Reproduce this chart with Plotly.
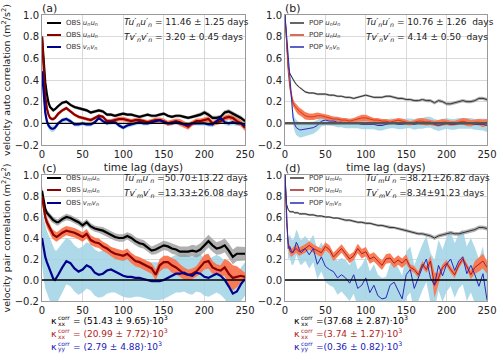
import plotly.graph_objects as go

W, H = 500, 357

# time lag (days)
LAG = [0, 2, 4, 6, 8, 10, 12, 14, 16, 18, 20,
       25, 30, 35, 40, 45, 50, 55, 60, 65, 70,
       75, 80, 85, 90, 95, 100, 105, 110, 115, 120,
       125, 130, 135, 140, 145, 150, 155, 160, 165, 170,
       175, 180, 185, 190, 195, 200, 205, 210, 215, 220,
       225, 230, 235, 240, 245, 250]

# (a) OBS auto correlation
A_BLACK = [0.80, 0.55, 0.38, 0.27, 0.19, 0.15, 0.13, 0.12, 0.13, 0.15, 0.16,
           0.19, 0.20, 0.17, 0.15, 0.14, 0.13, 0.12, 0.10, 0.11, 0.12,
           0.11, 0.08, 0.08, 0.07, 0.08, 0.09, 0.08, 0.08, 0.07, 0.06,
           0.07, 0.08, 0.07, 0.07, 0.08, 0.09, 0.07, 0.06, 0.07, 0.07,
           0.06, 0.05, 0.06, 0.07, 0.08, 0.10, 0.08, 0.05, 0.05, 0.06,
           0.10, 0.11, 0.09, 0.07, 0.05, 0.02]
A_BLACK_ERR = [0.02, 0.02, 0.02, 0.02, 0.015, 0.015, 0.015, 0.015, 0.015, 0.015, 0.015,
               0.015, 0.015, 0.015, 0.015, 0.015, 0.015, 0.015, 0.015, 0.015, 0.015,
               0.015, 0.015, 0.015, 0.015, 0.015, 0.015, 0.015, 0.015, 0.015, 0.015,
               0.015, 0.015, 0.015, 0.015, 0.015, 0.015, 0.015, 0.015, 0.015, 0.015,
               0.015, 0.015, 0.015, 0.015, 0.02, 0.02, 0.02, 0.02, 0.02, 0.02,
               0.02, 0.02, 0.02, 0.02, 0.02, 0.02]
A_RED = [0.80, 0.45, 0.25, 0.14, 0.08, 0.05, 0.04, 0.04, 0.05, 0.07, 0.09,
         0.12, 0.14, 0.11, 0.08, 0.06, 0.05, 0.04, 0.03, 0.05, 0.07,
         0.06, 0.02, 0.02, 0.03, 0.04, 0.04, 0.03, 0.02, 0.03, 0.03,
         0.02, 0.01, 0.02, 0.03, 0.03, 0.02, 0.00, 0.01, 0.02, 0.01,
         -0.01, -0.03, 0.00, 0.02, 0.02, 0.03, 0.04, 0.00, 0.01, 0.02,
         0.05, 0.06, 0.05, 0.02, 0.00, -0.04]
A_RED_ERR = [0.02, 0.02, 0.02, 0.02, 0.02, 0.015, 0.015, 0.015, 0.015, 0.015, 0.015,
             0.015, 0.015, 0.015, 0.015, 0.015, 0.015, 0.015, 0.015, 0.015, 0.015,
             0.015, 0.02, 0.02, 0.02, 0.02, 0.02, 0.02, 0.02, 0.02, 0.02,
             0.02, 0.02, 0.02, 0.025, 0.025, 0.025, 0.025, 0.025, 0.025, 0.03,
             0.03, 0.03, 0.025, 0.025, 0.025, 0.025, 0.025, 0.025, 0.025, 0.025,
             0.025, 0.025, 0.025, 0.03, 0.03, 0.03]
A_BLUE = [0.48, 0.25, 0.10, 0.02, -0.02, -0.04, -0.05, -0.05, -0.04, -0.02, 0.00,
          0.03, 0.04, 0.02, -0.01, -0.01, 0.00, -0.01, -0.01, 0.01, 0.05,
          0.02, 0.00, 0.01, 0.01, -0.02, -0.04, -0.02, -0.01, 0.00, 0.01,
          0.00, 0.00, 0.01, 0.02, 0.03, 0.01, 0.00, 0.00, 0.01, 0.00,
          -0.01, -0.01, 0.00, 0.00, 0.00, 0.00, -0.01, -0.01, 0.02, 0.05,
          0.01, 0.00, 0.01, 0.00, 0.00, -0.02]
A_BLUE_ERR = [0.03, 0.03, 0.03, 0.03, 0.03, 0.03, 0.03, 0.03, 0.025, 0.025, 0.02,
              0.02, 0.02, 0.02, 0.02, 0.02, 0.02, 0.02, 0.02, 0.02, 0.02,
              0.02, 0.02, 0.02, 0.02, 0.02, 0.02, 0.02, 0.02, 0.02, 0.02,
              0.02, 0.02, 0.02, 0.02, 0.02, 0.02, 0.02, 0.02, 0.02, 0.02,
              0.02, 0.02, 0.02, 0.02, 0.02, 0.02, 0.02, 0.025, 0.025, 0.025,
              0.025, 0.025, 0.025, 0.025, 0.025, 0.025]

# (b) POP auto correlation
B_BLACK = [1.00, 0.70, 0.52, 0.46, 0.43, 0.40, 0.38, 0.36, 0.34, 0.33, 0.32,
           0.29, 0.28, 0.28, 0.27, 0.27, 0.27, 0.26, 0.26, 0.25, 0.25,
           0.24, 0.24, 0.23, 0.24, 0.25, 0.26, 0.25, 0.24, 0.24, 0.24,
           0.25, 0.25, 0.24, 0.23, 0.23, 0.22, 0.22, 0.21, 0.21, 0.22,
           0.21, 0.21, 0.19, 0.21, 0.20, 0.18, 0.18, 0.19, 0.20, 0.21,
           0.20, 0.20, 0.21, 0.23, 0.23, 0.22]
B_BLACK_ERR = [0.01, 0.01, 0.01, 0.01, 0.01, 0.01, 0.01, 0.01, 0.01, 0.01, 0.01,
               0.01, 0.01, 0.01, 0.01, 0.01, 0.01, 0.01, 0.01, 0.01, 0.01,
               0.01, 0.01, 0.01, 0.01, 0.01, 0.01, 0.01, 0.01, 0.01, 0.01,
               0.012, 0.012, 0.012, 0.012, 0.012, 0.012, 0.012, 0.012, 0.012, 0.012,
               0.015, 0.015, 0.015, 0.015, 0.015, 0.015, 0.015, 0.015, 0.015, 0.015,
               0.015, 0.015, 0.015, 0.015, 0.015, 0.015]
B_RED = [1.00, 0.72, 0.48, 0.33, 0.24, 0.19, 0.16, 0.14, 0.12, 0.11, 0.10,
         0.07, 0.06, 0.06, 0.07, 0.07, 0.06, 0.05, 0.04, 0.04, 0.03,
         0.03, 0.02, 0.03, 0.04, 0.05, 0.05, 0.04, 0.03, 0.03, 0.02,
         0.02, 0.01, 0.02, 0.03, 0.02, 0.01, 0.00, 0.01, 0.02, 0.02,
         0.01, 0.01, 0.00, 0.00, 0.01, 0.01, 0.00, 0.00, 0.01, 0.02,
         0.01, 0.00, 0.01, 0.01, 0.00, 0.01]
B_RED_ERR = [0.02, 0.03, 0.03, 0.035, 0.035, 0.035, 0.035, 0.035, 0.035, 0.035, 0.035,
             0.035, 0.03, 0.03, 0.03, 0.025, 0.025, 0.025, 0.02, 0.02, 0.02,
             0.02, 0.02, 0.02, 0.025, 0.03, 0.03, 0.025, 0.02, 0.02, 0.02,
             0.02, 0.02, 0.02, 0.02, 0.025, 0.025, 0.02, 0.02, 0.025, 0.03,
             0.03, 0.025, 0.025, 0.03, 0.03, 0.025, 0.025, 0.025, 0.025, 0.03,
             0.035, 0.03, 0.025, 0.03, 0.035, 0.03]
B_BLUE = [1.00, 0.80, 0.60, 0.40, 0.20, 0.05, -0.01, -0.04, -0.05, -0.06, -0.06,
          -0.055, -0.05, -0.04, -0.02, 0.02, 0.03, 0.02, 0.02, 0.01, 0.01,
          0.00, 0.00, 0.00, 0.00, -0.01, -0.01, -0.01, -0.01, -0.02, -0.02,
          -0.01, 0.00, 0.00, -0.01, -0.01, 0.00, 0.00, -0.01, 0.00, 0.00,
          0.01, 0.01, -0.01, -0.02, -0.01, 0.00, -0.01, -0.01, 0.00, 0.00,
          0.00, 0.00, -0.01, -0.01, -0.01, -0.02]
B_BLUE_ERR = [0.02, 0.03, 0.04, 0.05, 0.06, 0.06, 0.065, 0.07, 0.07, 0.07, 0.07,
              0.065, 0.06, 0.055, 0.05, 0.05, 0.05, 0.045, 0.045, 0.045, 0.045,
              0.045, 0.045, 0.045, 0.045, 0.045, 0.045, 0.045, 0.045, 0.045, 0.045,
              0.045, 0.045, 0.045, 0.045, 0.045, 0.045, 0.045, 0.05, 0.05, 0.05,
              0.05, 0.05, 0.05, 0.05, 0.05, 0.05, 0.05, 0.05, 0.05, 0.05,
              0.05, 0.05, 0.05, 0.055, 0.055, 0.06]

# (c) OBS pair correlation
C_BLACK = [0.85, 0.74, 0.68, 0.64, 0.62, 0.60, 0.58, 0.57, 0.56, 0.55, 0.55,
           0.58, 0.60, 0.59, 0.57, 0.55, 0.52, 0.55, 0.51, 0.49, 0.48,
           0.47, 0.45, 0.43, 0.41, 0.40, 0.40, 0.42, 0.40, 0.37, 0.35,
           0.34, 0.31, 0.28, 0.29, 0.31, 0.33, 0.32, 0.30, 0.29, 0.27,
           0.27, 0.27, 0.28, 0.27, 0.29, 0.33, 0.37, 0.33, 0.30, 0.31,
           0.33, 0.28, 0.22, 0.25, 0.25, 0.25]
C_BLACK_ERR = [0.04, 0.035, 0.03, 0.03, 0.03, 0.03, 0.03, 0.03, 0.03, 0.03, 0.03,
               0.03, 0.03, 0.03, 0.03, 0.03, 0.03, 0.03, 0.03, 0.03, 0.03,
               0.035, 0.035, 0.035, 0.035, 0.035, 0.035, 0.035, 0.04, 0.04, 0.04,
               0.04, 0.04, 0.04, 0.045, 0.045, 0.045, 0.045, 0.05, 0.05, 0.05,
               0.05, 0.05, 0.055, 0.055, 0.06, 0.06, 0.06, 0.06, 0.06, 0.065,
               0.065, 0.07, 0.07, 0.07, 0.065, 0.065]
C_RED = [0.80, 0.68, 0.60, 0.55, 0.52, 0.48, 0.45, 0.43, 0.42, 0.41, 0.42,
         0.45, 0.47, 0.46, 0.45, 0.43, 0.41, 0.44, 0.38, 0.36, 0.35,
         0.32, 0.30, 0.27, 0.25, 0.24, 0.23, 0.25, 0.21, 0.18, 0.17,
         0.15, 0.13, 0.11, 0.05, 0.14, 0.17, 0.17, 0.14, 0.12, 0.09,
         0.06, 0.05, 0.06, 0.08, 0.12, 0.17, 0.18, 0.12, 0.10, 0.09,
         0.12, 0.06, 0.02, 0.03, 0.04, 0.03]
C_RED_ERR = [0.05, 0.05, 0.05, 0.05, 0.045, 0.045, 0.045, 0.045, 0.045, 0.045, 0.045,
             0.045, 0.045, 0.045, 0.045, 0.045, 0.045, 0.045, 0.045, 0.045, 0.045,
             0.045, 0.045, 0.045, 0.05, 0.05, 0.05, 0.05, 0.05, 0.05, 0.05,
             0.05, 0.05, 0.05, 0.05, 0.06, 0.06, 0.06, 0.07, 0.07, 0.06,
             0.06, 0.05, 0.05, 0.05, 0.06, 0.07, 0.07, 0.06, 0.05, 0.05,
             0.08, 0.12, 0.12, 0.10, 0.06, 0.04]
C_BLUE = [0.40, 0.30, 0.22, 0.17, 0.13, 0.09, 0.05, 0.01, 0.00, 0.02, 0.05,
          0.12, 0.18, 0.16, 0.11, 0.08, 0.10, 0.14, 0.12, 0.07, 0.05,
          0.06, 0.09, 0.10, 0.08, 0.06, 0.04, 0.03, 0.03, 0.02, 0.02,
          0.01, 0.00, -0.01, -0.01, -0.01, 0.00, 0.02, 0.04, 0.06, 0.06,
          0.07, 0.05, 0.04, 0.07, 0.06, 0.03, 0.02, 0.04, 0.06, 0.04,
          0.00, -0.06, -0.13, -0.11, -0.04, 0.01]
C_BLUE_ERR = [0.25, 0.28, 0.30, 0.30, 0.30, 0.30, 0.30, 0.30, 0.28, 0.26, 0.25,
              0.24, 0.22, 0.22, 0.22, 0.22, 0.22, 0.22, 0.22, 0.22, 0.22,
              0.22, 0.22, 0.22, 0.20, 0.20, 0.20, 0.20, 0.20, 0.18, 0.18,
              0.18, 0.18, 0.18, 0.18, 0.18, 0.18, 0.18, 0.18, 0.18, 0.18,
              0.18, 0.18, 0.18, 0.18, 0.18, 0.18, 0.18, 0.18, 0.18, 0.18,
              0.18, 0.18, 0.18, 0.16, 0.16, 0.16]

# (d) POP pair correlation
D_BLACK = [1.00, 0.72, 0.67, 0.65, 0.65, 0.65, 0.64, 0.64, 0.64, 0.63, 0.63,
           0.63, 0.62, 0.62, 0.61, 0.61, 0.60, 0.60, 0.59, 0.59, 0.58,
           0.57, 0.57, 0.56, 0.55, 0.55, 0.54, 0.54, 0.53, 0.52, 0.52,
           0.51, 0.50, 0.50, 0.49, 0.48, 0.47, 0.46, 0.45, 0.44, 0.44,
           0.43, 0.42, 0.40, 0.42, 0.43, 0.44, 0.45, 0.44, 0.44, 0.45,
           0.46, 0.47, 0.48, 0.50, 0.50, 0.49]
D_BLACK_ERR = [0.01, 0.01, 0.01, 0.01, 0.01, 0.01, 0.01, 0.01, 0.01, 0.01, 0.01,
               0.01, 0.01, 0.01, 0.01, 0.01, 0.01, 0.01, 0.01, 0.01, 0.01,
               0.012, 0.012, 0.012, 0.012, 0.012, 0.012, 0.012, 0.012, 0.012, 0.012,
               0.015, 0.015, 0.015, 0.015, 0.015, 0.015, 0.015, 0.015, 0.015, 0.015,
               0.018, 0.018, 0.018, 0.018, 0.018, 0.018, 0.018, 0.018, 0.018, 0.018,
               0.02, 0.02, 0.02, 0.02, 0.02, 0.02]
D_RED = [1.00, 0.55, 0.35, 0.28, 0.26, 0.27, 0.29, 0.30, 0.28, 0.27, 0.28,
         0.30, 0.33, 0.30, 0.28, 0.26, 0.32, 0.29, 0.22, 0.26, 0.30,
         0.25, 0.20, 0.23, 0.30, 0.25, 0.27, 0.20, 0.22, 0.18, 0.14,
         0.20, 0.21, 0.16, 0.19, 0.16, 0.20, 0.12, 0.10, 0.05, 0.15,
         0.10, 0.18, -0.05, 0.02, 0.12, 0.16, 0.10, 0.05, 0.14, 0.20,
         0.13, 0.05, 0.12, 0.15, 0.18, 0.12]
D_RED_ERR = [0.02, 0.03, 0.04, 0.04, 0.04, 0.04, 0.04, 0.04, 0.04, 0.04, 0.04,
             0.04, 0.04, 0.04, 0.04, 0.04, 0.04, 0.04, 0.04, 0.04, 0.04,
             0.04, 0.04, 0.04, 0.045, 0.045, 0.045, 0.045, 0.045, 0.045, 0.045,
             0.045, 0.045, 0.045, 0.045, 0.045, 0.045, 0.03, 0.03, 0.03, 0.03,
             0.03, 0.05, 0.12, 0.05, 0.03, 0.03, 0.03, 0.03, 0.03, 0.03,
             0.03, 0.04, 0.06, 0.07, 0.07, 0.06]
D_BLUE = [1.00, 0.55, 0.30, 0.32, 0.27, 0.26, 0.30, 0.36, 0.33, 0.28, 0.26,
          0.30, 0.24, 0.30, 0.15, 0.22, 0.13, 0.10, 0.08, 0.02, 0.05,
          0.02, -0.03, 0.05, -0.08, -0.05, 0.02, -0.12, -0.05, -0.15, -0.18,
          -0.17, -0.05, -0.02, -0.10, -0.18, 0.05, 0.10, -0.08, 0.02, 0.12,
          0.20, 0.02, -0.05, 0.14, 0.04, 0.15, 0.20, 0.09, 0.18, 0.22,
          0.06, 0.14, 0.05, -0.06, 0.06, -0.19]
D_BLUE_ERR = [0.05, 0.08, 0.10, 0.11, 0.12, 0.12, 0.12, 0.12, 0.12, 0.12, 0.12,
              0.12, 0.13, 0.13, 0.14, 0.14, 0.15, 0.15, 0.15, 0.16, 0.16,
              0.17, 0.17, 0.18, 0.18, 0.19, 0.20, 0.20, 0.20, 0.20, 0.20,
              0.20, 0.20, 0.22, 0.22, 0.22, 0.22, 0.22, 0.22, 0.22, 0.22,
              0.22, 0.24, 0.24, 0.24, 0.25, 0.26, 0.26, 0.26, 0.26, 0.26,
              0.26, 0.26, 0.26, 0.26, 0.26, 0.26]

T_TEXT = {
    "a": ["<i>Tu′<sub>n</sub>u′<sub>n</sub></i> = 11.46 ± 1.25 days",
          "<i>Tv′<sub>n</sub>v′<sub>n</sub></i> = 3.20 ± 0.45 days"],
    "b": ["<i>Tu′<sub>n</sub>u′<sub>n</sub></i> = 10.76 ± 1.26  days",
          "<i>Tv′<sub>n</sub>v′<sub>n</sub></i> = 4.14 ± 0.50  days"],
    "c": ["<i>Tu′<sub>m</sub>u′<sub>n</sub></i> =50.70±13.22 days",
          "<i>Tv′<sub>m</sub>v′<sub>n</sub></i> =13.33±26.08 days"],
    "d": ["<i>Tu′<sub>m</sub>u′<sub>n</sub></i> =38.21±26.82 days",
          "<i>Tv′<sub>m</sub>v′<sub>n</sub></i> =8.34±91.23 days"],
}
KAPPA_OBS = ["= (51.43 ± 9.65)", "= (20.99 ± 7.72)", "= (2.79 ± 4.88)"]
KAPPA_POP = ["=(37.68 ± 2.87)", "=(3.74 ± 1.27)", "=(0.36 ± 0.82)"]
KAPPA_SUB = ["xx", "xx", "yy"]

for arr in [A_BLACK, A_BLACK_ERR, A_RED, A_RED_ERR, A_BLUE, A_BLUE_ERR,
            B_BLACK, B_BLACK_ERR, B_RED, B_RED_ERR, B_BLUE, B_BLUE_ERR,
            C_BLACK, C_BLACK_ERR, C_RED, C_RED_ERR, C_BLUE, C_BLUE_ERR,
            D_BLACK, D_BLACK_ERR, D_RED, D_RED_ERR, D_BLUE, D_BLUE_ERR]:
    assert len(arr) == len(LAG), len(arr)

FONT = "DejaVu Sans"
GRAY_BAND = "rgba(150,150,150,0.75)"
ORANGE_BAND = "rgba(250,118,78,0.95)"
BLUE_BAND = "rgba(160,210,228,0.85)"


def px(x):
    return x / W


def py(y):
    return 1 - y / H


fig = go.Figure()


def add_band(vals, err, color, xa, ya):
    up = [v + e for v, e in zip(vals, err)]
    lo = [v - e for v, e in zip(vals, err)]
    fig.add_trace(go.Scatter(x=LAG + LAG[::-1], y=up + lo[::-1], fill="toself",
                             fillcolor=color, mode="lines", line=dict(width=0),
                             hoverinfo="skip", showlegend=False, xaxis=xa, yaxis=ya))


def add_line(vals, color, width, xa, ya):
    fig.add_trace(go.Scatter(x=LAG, y=vals, mode="lines", line=dict(color=color, width=width),
                             showlegend=False, xaxis=xa, yaxis=ya))


panels = [
    # key, axes, data, line colours, width, label prefix, subscripts
    ("a", "x", "y", (A_BLACK, A_BLACK_ERR, A_RED, A_RED_ERR, A_BLUE, A_BLUE_ERR),
     ("black", "#8b0000", "#00008b"), 2.2, "OBS", ("n", "n")),
    ("b", "x2", "y2", (B_BLACK, B_BLACK_ERR, B_RED, B_RED_ERR, B_BLUE, B_BLUE_ERR),
     ("#333333", "#d23a22", "#2a2ab8"), 1.0, "POP", ("n", "n")),
    ("c", "x3", "y3", (C_BLACK, C_BLACK_ERR, C_RED, C_RED_ERR, C_BLUE, C_BLUE_ERR),
     ("black", "#8b0000", "#00008b"), 2.2, "OBS", ("m", "n")),
    ("d", "x4", "y4", (D_BLACK, D_BLACK_ERR, D_RED, D_RED_ERR, D_BLUE, D_BLUE_ERR),
     ("#333333", "#a52020", "#2a2ab8"), 1.0, "POP", ("m", "n")),
]

# pixel boxes of the four axes: left, right, top, bottom
BOX = {"a": (42, 245, 15, 145), "b": (285, 487, 15, 145),
       "c": (42, 245, 175, 301), "d": (285, 487, 175, 301)}

annotations = []
shapes = []
layout_axes = {}


def note(text, x, y, size, color="#222"):
    annotations.append(dict(text=text, x=px(x), y=py(y), xref="paper", yref="paper",
                            xanchor="left", yanchor="middle", showarrow=False, borderpad=0,
                            font=dict(size=size, color=color, family=FONT)))


for key, xa, ya, data, cols, lw, src, sub in panels:
    bk, bke, rd, rde, bl, ble = data
    add_band(bl, ble, BLUE_BAND, xa, ya)
    add_band(rd, rde, ORANGE_BAND, xa, ya)
    add_band(bk, bke, GRAY_BAND, xa, ya)
    add_line(bk, cols[0], lw, xa, ya)
    add_line(rd, cols[1], lw, xa, ya)
    add_line(bl, cols[2], lw, xa, ya)

    l, r, t, b = BOX[key]
    xname = "xaxis" + xa[1:]
    yname = "yaxis" + ya[1:]
    layout_axes[xname] = dict(
        domain=[px(l), px(r)], anchor=ya, range=[0, 250], tickvals=[0, 50, 100, 150, 200, 250],
        showgrid=True, gridcolor="#d9d9d9", showline=True, mirror=True, linecolor="#9a9a9a",
        linewidth=1, zeroline=False, ticks="", tickfont=dict(size=10, color="#222"),
        automargin=False)
    layout_axes[yname] = dict(
        domain=[py(b), py(t)], anchor=xa, range=[-0.2, 1.0], tickvals=[-0.2, 0, 0.2, 0.4, 0.6, 0.8, 1.0],
        tickformat=".1f", showgrid=True, gridcolor="#d9d9d9", showline=True, mirror=True,
        linecolor="#9a9a9a", linewidth=1, zeroline=False, ticks="",
        tickfont=dict(size=10, color="#222"), automargin=False)
    if key in "ab":
        layout_axes[xname]["title"] = dict(text="time lag (days)", font=dict(size=10.5, color="#222"),
                                           standoff=4)
    if key == "a":
        layout_axes[yname]["title"] = dict(
            text="velocity auto correlation (m<sup>2</sup>/s<sup>2</sup>)",
            font=dict(size=9.5, color="#222"), standoff=2)
    if key == "c":
        layout_axes[yname]["title"] = dict(
            text="velocity pair correlation (m<sup>2</sup>/s<sup>2</sup>)",
            font=dict(size=9.5, color="#222"), standoff=2)

    # zero line
    shapes.append(dict(type="line", xref=xa + " domain", yref=ya, x0=0, x1=1, y0=0, y1=0,
                       line=dict(color="#555" if key == "b" else "black",
                                 width=2.5 if key == "b" else 1.3), layer="above"))

    # panel label
    note("(%s)" % key, l - 1, t - 7, 11)

    # legend
    m, n = sub
    names = ["%s <i>u<sub>%s</sub>u<sub>%s</sub></i>" % (src, m, n),
             "%s <i>u<sub>%s</sub>u<sub>%s</sub></i>" % (src, m, n),
             "%s <i>v<sub>%s</sub>v<sub>%s</sub></i>" % (src, m, n)]
    leg_y = [t + 8, t + 20, t + 32] if key in "ab" else [t + 3, t + 15, t + 28]
    for nm, c, yy in zip(names, cols, leg_y):
        shapes.append(dict(type="line", xref="paper", yref="paper", x0=px(l + 5), x1=px(l + 19),
                           y0=py(yy), y1=py(yy), line=dict(color=c, width=1.5 if lw < 2 else 2)))
        note(nm, l + 23, yy, 7, "#333")

    # timescale texts
    tx = l + 81 if key in "ac" else l + 80
    ty = [t + 8, t + 23] if key in "ab" else [t + 3, t + 19]
    for txt, yy in zip(T_TEXT[key], ty):
        note(txt, tx, yy, 9)

# diffusivity texts under the bottom panels (kappa with stacked sub/superscript)
KCOLS = ["black", "#b01c1c", "#2020b8"]
for vals, x0, gap in [(KAPPA_OBS, 50, 22), (KAPPA_POP, 293, 22)]:
    for v, c, s, yy in zip(vals, KCOLS, KAPPA_SUB, [320, 333, 346]):
        note("κ", x0, yy, 9.5, c)
        note("corr", x0 + 7, yy - 3, 6, c)
        note(s, x0 + 7, yy + 3, 6, c)
        note("%s·10<sup>3</sup>" % v, x0 + gap, yy, 9, c)

fig.update_layout(
    width=W, height=H, margin=dict(l=0, r=0, t=0, b=0),
    paper_bgcolor="white", plot_bgcolor="white",
    font=dict(family=FONT, size=10, color="#222"),
    showlegend=False, annotations=annotations, shapes=shapes,
    **layout_axes)

fig.write_html("out.html", config={"displayModeBar": False},
               post_script="document.body.style.margin='0';")
